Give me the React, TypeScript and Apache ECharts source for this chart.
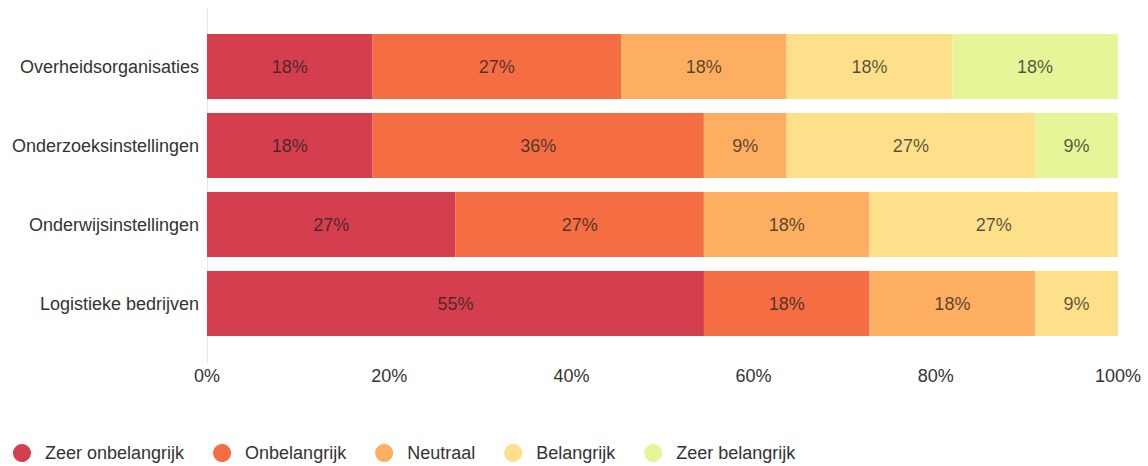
import React, { useEffect, useRef } from "react";
import * as echarts from "echarts";

const categories = ["Overheidsorganisaties", "Onderzoeksinstellingen", "Onderwijsinstellingen", "Logistieke bedrijven"];
const seriesNames = ["Zeer onbelangrijk", "Onbelangrijk", "Neutraal", "Belangrijk", "Zeer belangrijk"];
const colors = ["#d53e4f", "#f46d43", "#fdae61", "#fee08b", "#e6f598"];
const zeerOnbelangrijk = [18.18, 18.18, 27.27, 54.55];
const onbelangrijk = [27.27, 36.36, 27.27, 18.18];
const neutraal = [18.18, 9.09, 18.18, 18.18];
const belangrijk = [18.18, 27.27, 27.27, 9.09];
const zeerBelangrijk = [18.18, 9.09, 0, 0];
const valueTicks = [0, 20, 40, 60, 80, 100];

const allValues = [zeerOnbelangrijk, onbelangrijk, neutraal, belangrijk, zeerBelangrijk];

export default function App() {
  const ref = useRef<HTMLDivElement>(null);
  useEffect(() => {
    if (!ref.current) return;
    const chart = echarts.init(ref.current, null, { renderer: "svg" });
    const font = "'Liberation Sans', Arial, sans-serif";
    chart.setOption({
      animation: false,
      textStyle: { fontFamily: font },
      grid: { left: 207, right: 30, top: 27, height: 316 },
      xAxis: {
        type: "value",
        min: valueTicks[0],
        max: valueTicks[valueTicks.length - 1],
        interval: 20,
        axisLabel: { formatter: "{value}%", fontSize: 18, color: "#333", margin: 24, fontFamily: font },
        splitLine: { show: false },
        axisLine: { show: false },
        axisTick: { show: false },
      },
      yAxis: {
        type: "category",
        data: categories,
        inverse: true,
        axisLine: { show: false },
        axisTick: { show: false },
        axisLabel: { fontSize: 18, color: "#333", margin: 8, fontFamily: font },
      },
      legend: {
        top: 439,
        left: 8,
        icon: "circle",
        itemWidth: 18,
        itemHeight: 18,
        itemGap: 29,
        textStyle: { fontSize: 18, color: "#333", fontFamily: font, padding: [0, 0, 0, 9] },
        data: seriesNames,
      },
      graphic: [
        {
          type: "line",
          shape: { x1: 207.5, y1: 8, x2: 207.5, y2: 363 },
          style: { stroke: "#e6e6e6", lineWidth: 1 },
          z: 0,
        },
      ],
      series: seriesNames.map((name, i) => ({
        name,
        type: "bar",
        stack: "total",
        data: allValues[i],
        barWidth: 65,
        itemStyle: { color: colors[i] },
        label: {
          show: true,
          position: "inside",
          fontSize: 18,
          fontFamily: font,
          color: "rgba(30,30,30,0.75)",
          formatter: (p: any) => (p.value > 0 ? Math.round(p.value) + "%" : ""),
        },
      })),
    });
    return () => chart.dispose();
  }, []);
  return <div ref={ref} style={{ position: "absolute", left: 0, top: 0, width: 1148, height: 466 }} />;
}
